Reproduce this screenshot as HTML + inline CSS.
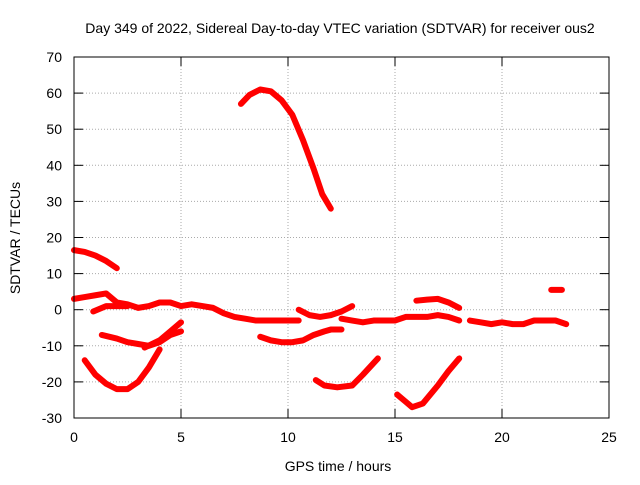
<!DOCTYPE html>
<html><head><meta charset="utf-8"><style>
body{margin:0;background:#fff}
svg{font-family:"Liberation Sans",sans-serif;font-size:14px}
</style></head><body>
<svg id="chart" width="640" height="480">
<text x="340" y="33" text-anchor="middle">Day 349 of 2022, Sidereal Day-to-day VTEC variation (SDTVAR) for receiver ous2</text>
<text x="338" y="471" text-anchor="middle">GPS time / hours</text>
<text transform="translate(20,238) rotate(-90)" text-anchor="middle">SDTVAR / TECUs</text>
<g id="grid"></g><g id="ticks"></g><g id="series"></g>
<rect x="74" y="57" width="535" height="361" fill="none" stroke="#000"/>
</svg>
<script>
const xTicks=[0,5,10,15,20,25];
const yTicks=[-30,-20,-10,0,10,20,30,40,50,60,70];
const s1=[[7.8,57],[8.2,59.5],[8.7,61],[9.2,60.5],[9.7,58],[10.2,54],[10.7,47],[11.2,39],[11.6,32],[12,28]];
const s2=[[0,16.5],[0.5,16],[1,15],[1.5,13.5],[2,11.5]];
const s3=[[0,3],[0.5,3.5],[1,4],[1.5,4.5],[2,2],[2.5,1.5],[3,0.5],[3.5,1],[4,2],[4.5,2],[5,1],[5.5,1.5],[6,1],[6.5,0.5],[7,-1],[7.5,-2],[8,-2.5],[8.5,-3],[9,-3],[9.5,-3],[10,-3],[10.5,-3]];
const s4=[[0.9,-0.5],[1.5,1],[2,1],[2.5,1]];
const s5=[[10.5,0],[11,-1.5],[11.5,-2],[12,-1.5],[12.5,-0.5],[13,1]];
const s6=[[12.5,-2.5],[13,-3],[13.5,-3.5],[14,-3],[14.5,-3],[15,-3],[15.5,-2],[16,-2],[16.5,-2],[17,-1.5],[17.5,-2],[18,-3]];
const s7=[[16,2.5],[16.5,2.8],[17,3],[17.5,2],[18,0.5]];
const s8=[[18.5,-3],[19,-3.5],[19.5,-4],[20,-3.5],[20.5,-4],[21,-4],[21.5,-3],[22,-3],[22.5,-3],[23,-4]];
const s9=[[22.3,5.5],[22.8,5.5]];
const s10=[[1.3,-7],[2,-8],[2.5,-9],[3,-9.5],[3.5,-10],[4,-9],[4.5,-7],[5,-6]];
const s11=[[3.3,-10.5],[4,-8.5],[4.5,-6],[5,-3.5]];
const s12=[[8.7,-7.5],[9.2,-8.5],[9.7,-9],[10.2,-9],[10.7,-8.5],[11.2,-7],[11.7,-6],[12,-5.5],[12.5,-5.5]];
const s13=[[0.5,-14],[1,-18],[1.5,-20.5],[2,-22],[2.5,-22],[3,-20],[3.5,-16],[4,-11]];
const s14=[[11.3,-19.5],[11.7,-21],[12.3,-21.5],[13,-21],[13.5,-18],[14.2,-13.5]];
const s15=[[15.1,-23.5],[15.5,-25.5],[15.8,-27],[16.3,-26],[17,-21],[17.5,-17],[18,-13.5]];
const allSeries=[s1,s2,s3,s4,s5,s6,s7,s8,s9,s10,s11,s12,s13,s14,s15];
const X=v=>74+v*(535/25), Y=v=>418-(v+30)*(361/100);
const NS="http://www.w3.org/2000/svg";
const g=document.getElementById('grid'),t=document.getElementById('ticks'),se=document.getElementById('series');
function mk(tag,at,p){const e=document.createElementNS(NS,tag);for(const k in at)e.setAttribute(k,at[k]);p.appendChild(e);return e;}
xTicks.forEach(v=>{
 const l=mk('line',{x1:X(v),x2:X(v),y1:57,y2:418,stroke:'#aaa','stroke-dasharray':'1,2'},g);
 
 
 mk('line',{x1:X(v),x2:X(v),y1:418,y2:409,stroke:'#000'},t);
 mk('line',{x1:X(v),x2:X(v),y1:57,y2:66,stroke:'#000'},t);
 const tx=mk('text',{x:X(v),y:442,'text-anchor':'middle'},t);tx.textContent=v;
 
 
});
yTicks.forEach(v=>{
 const l=mk('line',{x1:74,x2:609,y1:Y(v),y2:Y(v),stroke:'#aaa','stroke-dasharray':'1,2'},g);
 
 
 mk('line',{x1:74,x2:83,y1:Y(v),y2:Y(v),stroke:'#000'},t);
 mk('line',{x1:600,x2:609,y1:Y(v),y2:Y(v),stroke:'#000'},t);
 const tx=mk('text',{x:62,y:Y(v)+5,'text-anchor':'end'},t);tx.textContent=v;
 
 
});
allSeries.forEach(s=>{
 const p=mk('polyline',{points:s.map(d=>X(d[0])+','+Y(d[1])).join(' '),fill:'none',stroke:'#f00','stroke-width':6,'stroke-linejoin':'round','stroke-linecap':'round'},se);
 
 
});
</script>
</body></html>
